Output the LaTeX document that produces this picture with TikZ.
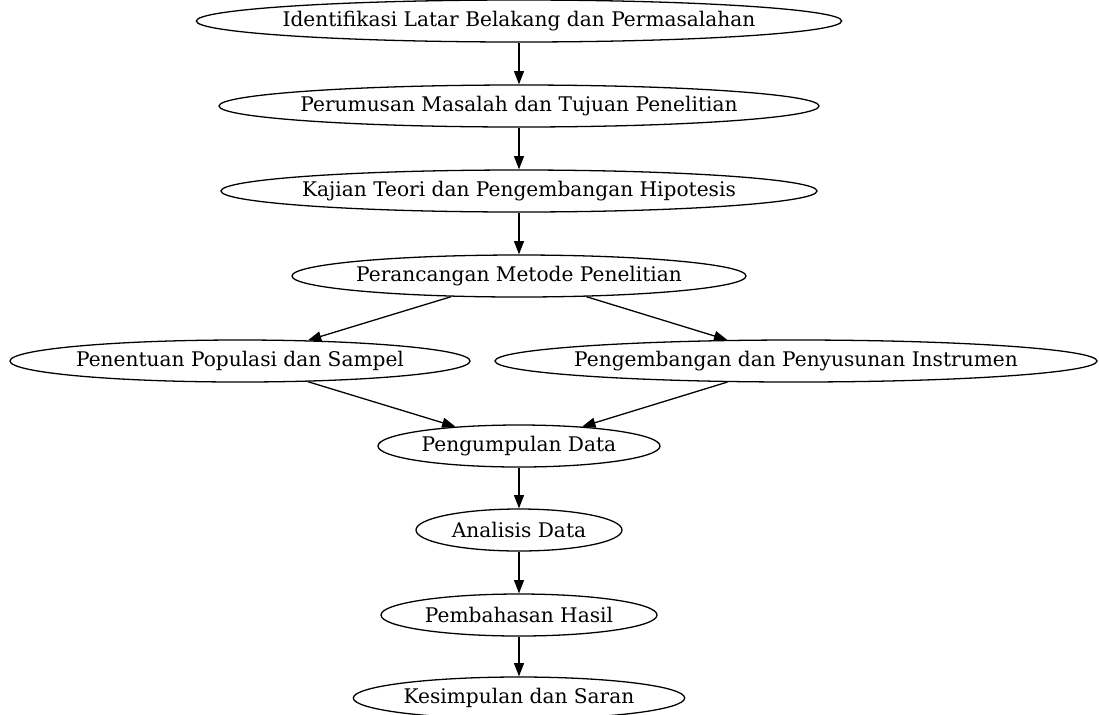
\documentclass[tikz,border=0pt]{standalone}
\usepackage{fontspec}
\setmainfont{DejaVu Serif}
\usetikzlibrary{shapes.geometric,arrows.meta}
\newcommand{\ctext}[1]{\makebox[0pt]{#1}}

\begin{document}
\begin{tikzpicture}[x=0.015cm, y=-0.015cm,
stage/.style={ellipse, draw=black, line width=0.55pt, inner sep=0pt, minimum height=6.3mm, font=\fontsize{8.6}{10}\selectfont},
flow/.style={-{Triangle[length=2mm, width=1.5mm]}, line width=0.55pt},
]
\useasboundingbox (0,0) rectangle (1099,714);
% main line
\node[stage, minimum width=96.8mm] (identifikasi) at (519,21) {\ctext{Identifikasi Latar Belakang dan Permasalahan}};
\node[stage, minimum width=90mm] (perumusan) at (519,106) {\ctext{Perumusan Masalah dan Tujuan Penelitian}};
\node[stage, minimum width=89.4mm] (kajian) at (519,191) {\ctext{Kajian Teori dan Pengembangan Hipotesis}};
\node[stage, minimum width=68.1mm] (perancangan) at (519,276) {\ctext{Perancangan Metode Penelitian}};
% two branches
\node[stage, minimum width=69mm] (populasi) at (240,361) {\ctext{Penentuan Populasi dan Sampel}};
\node[stage, minimum width=90.3mm] (instrumen) at (796,361) {\ctext{Pengembangan dan Penyusunan Instrumen}};
% after data
\node[stage, minimum width=42.3mm] (pengumpulan) at (519,446) {\ctext{Pengumpulan Data}};
\node[stage, minimum width=30.9mm] (analisis) at (519,530) {\ctext{Analisis Data}};
\node[stage, minimum width=41.4mm] (pembahasan) at (519,615) {\ctext{Pembahasan Hasil}};
\node[stage, minimum width=49.7mm] (kesimpulan) at (519,698) {\ctext{Kesimpulan dan Saran}};

\draw[flow] (identifikasi) -- (perumusan);
\draw[flow] (perumusan) -- (kajian);
\draw[flow] (kajian) -- (perancangan);
\draw[flow] (perancangan) -- (populasi);
\draw[flow] (perancangan) -- (instrumen);
\draw[flow] (populasi) -- (pengumpulan);
\draw[flow] (instrumen) -- (pengumpulan);
\draw[flow] (pengumpulan) -- (analisis);
\draw[flow] (analisis) -- (pembahasan);
\draw[flow] (pembahasan) -- (kesimpulan);
\end{tikzpicture}
\end{document}
